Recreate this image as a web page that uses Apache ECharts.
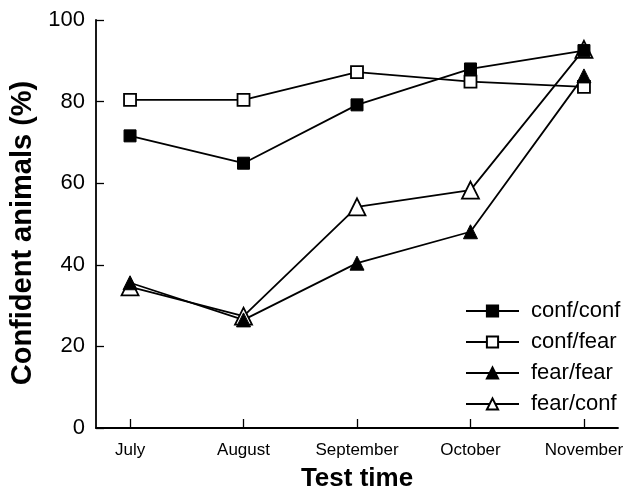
<!DOCTYPE html>
<html><head><meta charset="utf-8">
<script src="https://cdn.jsdelivr.net/npm/echarts@6/dist/echarts.min.js"></script>
<style>html,body{margin:0;padding:0;background:#fff}#c{width:627px;height:497px}</style>
</head><body><div id="c"></div>
<script>
const categories = ['July','August','September','October','November'];
const confConf = [71.6, 64.9, 79.2, 88.0, 92.5];
const confFear = [80.4, 80.4, 87.2, 84.9, 83.6];
const fearFear = [35.6, 26.5, 40.4, 48.1, 86.3];
const fearConf = [34.6, 27.4, 54.2, 58.3, 92.8];
const yTicks = [0, 20, 40, 60, 80, 100];

const pts = arr => arr.map((v, i) => [i, v]);
const catIdx = categories.map((c, i) => i);
const font = 'Liberation Sans, Arial, sans-serif';
function mk(name, data, symbol, filled, size) {
  return {
    name, type: 'line', data: pts(data), symbol, symbolSize: size,
    lineStyle: { color: '#000', width: 1.8 },
    itemStyle: filled ? { color: '#000', borderColor: '#000', borderWidth: 1 }
                      : { color: '#fff', borderColor: '#000', borderWidth: 1.8 },
    emphasis: { disabled: true }
  };
}
const chart = echarts.init(document.getElementById('c'), null, { renderer: 'canvas' });
chart.setOption({
  animation: false,
  grid: { left: 96, right: 9, top: 20, bottom: 69 },
  legend: {
    orient: 'vertical', left: 460, top: 295, itemGap: 9,
    itemWidth: 53, itemHeight: 14,
    textStyle: { fontFamily: font, fontSize: 22, color: '#000', padding: [0, 0, 0, 7] },
    data: ['conf/conf', 'conf/fear', 'fear/fear', 'fear/conf']
  },
  xAxis: {
    type: 'value', min: -0.3, max: 4.3,
    name: 'Test time', nameLocation: 'middle', nameGap: 38,
    nameTextStyle: { fontFamily: font, fontSize: 26, fontWeight: 'bold', color: '#000' },
    axisLine: { onZero: false, lineStyle: { color: '#000', width: 1.8 } },
    axisTick: { inside: true, length: 9, customValues: catIdx, lineStyle: { color: '#000', width: 1.3 } },
    axisLabel: { customValues: catIdx, formatter: v => categories[Math.round(v)], fontFamily: font, fontSize: 17, color: '#000', margin: 14 },
    splitLine: { show: false }
  },
  yAxis: {
    type: 'value', min: yTicks[0], max: yTicks[yTicks.length - 1], interval: 20,
    name: 'Confident animals (%)', nameLocation: 'middle', nameGap: 55,
    nameTextStyle: { fontFamily: font, fontSize: 29, fontWeight: 'bold', color: '#000', padding: [0, 18, 0, 0] },
    axisLine: { show: true, onZero: false, lineStyle: { color: '#000', width: 1.8 } },
    axisTick: { show: true, inside: true, length: 8, lineStyle: { color: '#000', width: 1.3 } },
    axisLabel: { fontFamily: font, fontSize: 22, color: '#000', margin: 11 },
    splitLine: { show: false }
  },
  series: [
    mk('conf/fear', confFear, 'rect', false, 12),
    mk('fear/conf', fearConf, 'triangle', false, 17),
    mk('fear/fear', fearFear, 'triangle', true, 14),
    mk('conf/conf', confConf, 'rect', true, 12)
  ]
});
</script></body></html>
